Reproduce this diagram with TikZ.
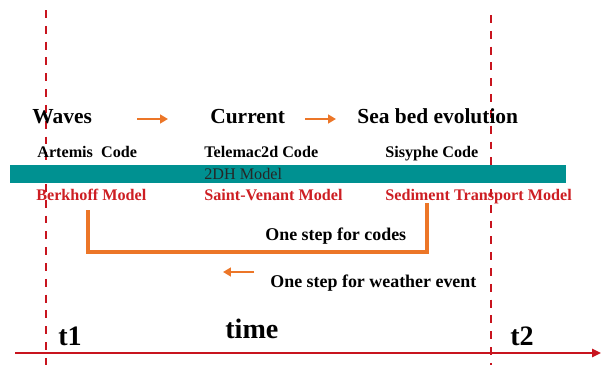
\documentclass[tikz,border=0pt]{standalone}
\usepackage{fontspec}
\setmainfont{Liberation Serif}
\usepackage{tikz}
\usetikzlibrary{arrows.meta,positioning,calc}
\definecolor{timered}{RGB}{200,20,30}
\definecolor{modelred}{RGB}{205,30,35}
\definecolor{steporange}{RGB}{236,118,40}
\definecolor{bandteal}{RGB}{0,145,145}

\begin{document}
\begin{tikzpicture}[x=0.02cm, y=-0.02cm,
    phase/.style  = {anchor=base west, inner sep=0pt, font=\fontsize{12.2}{14}\selectfont\bfseries},
    code/.style   = {anchor=base west, inner sep=0pt, font=\fontsize{9.2}{11}\selectfont\bfseries},
    model/.style  = {code, text=modelred},
    note/.style   = {anchor=base west, inner sep=0pt, font=\fontsize{10.2}{12}\selectfont\bfseries},
    tick/.style   = {anchor=base west, inner sep=0pt, font=\fontsize{16}{18}\selectfont\bfseries},
    band/.style   = {fill=bandteal, inner sep=0pt, anchor=north west,
                     minimum width=556*0.02cm, minimum height=18*0.02cm},
    marker/.style = {timered, line width=1.2pt, dash pattern=on 4.5pt off 4.5pt},
    arr/.style    = {-{Triangle[length=4.5pt,width=5pt]}, steporange, line width=1.7pt},
    loop/.style   = {steporange, line width=2.2pt},
]
\useasboundingbox (0,0) rectangle (606,365);

% time markers and axis
\coordinate (m1top) at (46,10);   \coordinate (m1bot) at (46,365);
\coordinate (m2top) at (491,15);  \coordinate (m2bot) at (491,365);
\draw[marker] (m1top) -- (m1bot);
\draw[marker] (m2top) -- (m2bot);
\coordinate (ax0) at (15,353);    \coordinate (ax1) at (601,353);
\draw[timered, line width=1.2pt, -{Triangle[length=5pt,width=4.5pt]}] (ax0) -- (ax1);
\node[tick] (t1)   at (58,345)  {t1};
\node[tick] (t2)   at (510,345) {t2};
\node[tick] (time) at (225,338) {time};

% phases
\node[phase] (waves) at (32,123)  {Waves};
\node[phase] (curr)  at (210,123) {Current};
\node[phase] (sea)   at (357,123) {Sea bed evolution};
\coordinate (w2c0) at (137,119);  \coordinate (w2c1) at (168,119);
\coordinate (c2s0) at (305,119);  \coordinate (c2s1) at (336,119);
\draw[arr] (w2c0) -- (w2c1);
\draw[arr] (c2s0) -- (c2s1);

% codes and models
\node[code] (artemis)  at (37,157)  {Artemis\ \ Code};
\node[code] (telemac)  at (204,157) {Telemac2d Code};
\node[code] (sisyphe)  at (385,157) {Sisyphe Code};
\node[band] (dh) at (10,165) {};
\node[anchor=base west, inner sep=0pt, font=\fontsize{9.2}{11}\selectfont, text=black!85]
     (dhtxt) at (204,179) {2DH Model};
\node[model] (berkhoff) at (36,200)  {Berkhoff Model};
\node[model] (venant)   at (204,200) {Saint-Venant Model};
\node[model] (sediment) at (385,200) {Sediment Transport Model};

% one step loop
\coordinate (loopL) at (88,210);
\coordinate (loopB) at (256,252);
\coordinate (loopR) at (427,203);
\draw[loop] (loopL) |- (loopB) -| (loopR);
\node[note] (codes) at (265,240) {One step for codes};
\node[note] (weather) at (270,287) {One step for weather event};
\coordinate (ev0) at (254,272);   \coordinate (ev1) at (223,272);
\draw[arr] (ev0) -- (ev1);
\end{tikzpicture}
\end{document}
